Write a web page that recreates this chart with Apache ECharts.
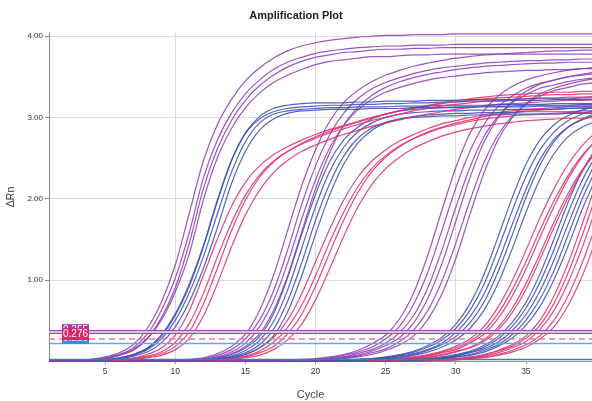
<!DOCTYPE html>
<html>
<head>
<meta charset="utf-8">
<title>Amplification Plot</title>
<script src="https://cdn.jsdelivr.net/npm/echarts@6/dist/echarts.min.js"></script>
<style>
  html, body { margin: 0; padding: 0; background: #fff; }
  #main { width: 592px; height: 401px; }
</style>
</head>
<body>
<div id="main"></div>
<script>
// PCR cycle numbers
const cycles = [1,2,3,4,5,6,7,8,9,10,11,12,13,14,15,16,17,18,19,20,21,22,23,24,25,26,27,28,29,30,31,32,33,34,35,36,37,38,39,40];

// Tick positions on the cycle axis
const cycleTicks = [5,10,15,20,25,30,35];
const cycleGrid = [10,20,30];

// Thresholds (ΔRn) for the three targets: purple, pink, blue
const thresholdPurple = 0.355;
const thresholdPink = 0.276;
const thresholdBlue = 0.216;

// ΔRn per cycle, replicate wells, grouped by dilution and target
const purpleHigh = [
  [0,0,0.01,0.02,0.05,0.10,0.20,0.40,0.72,1.18, 1.82,2.46,2.91,3.22,3.45,3.61,3.73,3.82,3.88,3.92, 3.95,3.97,3.99,4.00,4.01,4.01,4.02,4.02,4.02,4.03, 4.03,4.03,4.03,4.03,4.03,4.03,4.03,4.03,4.03,4.03],
  [0,0,0.01,0.02,0.04,0.08,0.16,0.33,0.62,1.02, 1.58,2.25,2.72,3.05,3.29,3.46,3.59,3.68,3.74,3.79, 3.82,3.84,3.86,3.87,3.88,3.88,3.89,3.89,3.89,3.90, 3.90,3.90,3.90,3.90,3.90,3.90,3.90,3.90,3.90,3.90],
  [0,0,0,0.01,0.03,0.07,0.14,0.28,0.53,0.90, 1.45,2.12,2.61,2.96,3.21,3.39,3.52,3.62,3.69,3.74, 3.77,3.80,3.81,3.83,3.84,3.84,3.85,3.85,3.86,3.86, 3.86,3.86,3.86,3.86,3.86,3.86,3.86,3.86,3.86,3.86],
  [0,0,0,0.01,0.03,0.07,0.13,0.27,0.50,0.85, 1.32,1.98,2.50,2.86,3.12,3.30,3.43,3.52,3.59,3.65, 3.69,3.71,3.73,3.75,3.75,3.76,3.77,3.77,3.78,3.78, 3.78,3.78,3.78,3.78,3.78,3.78,3.78,3.78,3.78,3.78]
];
const blueHigh = [
  [0,0,0,0.01,0.02,0.04,0.08,0.16,0.32,0.58, 0.95,1.42,1.98,2.47,2.80,2.98,3.07,3.11,3.13,3.14, 3.15,3.15,3.16,3.16,3.17,3.17,3.18,3.18,3.19,3.19, 3.20,3.20,3.20,3.21,3.21,3.21,3.22,3.22,3.22,3.22],
  [0,0,0,0.01,0.02,0.03,0.07,0.14,0.27,0.50, 0.84,1.28,1.81,2.32,2.70,2.93,3.04,3.08,3.10,3.11, 3.12,3.12,3.13,3.13,3.13,3.14,3.14,3.14,3.15,3.15, 3.15,3.15,3.16,3.16,3.16,3.16,3.17,3.17,3.17,3.17],
  [0,0,0,0,0.01,0.03,0.06,0.11,0.22,0.42, 0.73,1.14,1.64,2.18,2.58,2.84,2.98,3.05,3.08,3.09, 3.10,3.10,3.10,3.11,3.11,3.11,3.12,3.12,3.12,3.12, 3.13,3.13,3.13,3.13,3.13,3.14,3.14,3.14,3.14,3.14],
  [0,0,0,0.01,0.02,0.04,0.08,0.15,0.30,0.56, 0.92,1.40,1.96,2.46,2.81,3.01,3.11,3.15,3.17,3.18, 3.18,3.18,3.19,3.19,3.20,3.20,3.20,3.21,3.21,3.21, 3.22,3.22,3.22,3.22,3.23,3.23,3.23,3.23,3.24,3.24]
];
const pinkHigh = [
  [0,0,0,0.01,0.01,0.02,0.04,0.08,0.16,0.32, 0.62,1.05,1.50,1.90,2.20,2.40,2.54,2.64,2.72,2.79, 2.85,2.90,2.95,3.00,3.04,3.08,3.11,3.14,3.17,3.19, 3.21,3.23,3.24,3.25,3.26,3.27,3.28,3.28,3.29,3.29],
  [0,0,0,0,0.01,0.01,0.03,0.06,0.11,0.23, 0.46,0.83,1.28,1.70,2.04,2.29,2.46,2.58,2.67,2.74, 2.81,2.86,2.91,2.96,3.00,3.04,3.08,3.11,3.14,3.16, 3.18,3.20,3.21,3.22,3.23,3.24,3.24,3.25,3.25,3.26],
  [0,0,0,0,0,0.01,0.02,0.05,0.09,0.18, 0.36,0.70,1.14,1.60,1.98,2.26,2.45,2.58,2.68,2.76, 2.83,2.89,2.94,2.99,3.04,3.08,3.12,3.15,3.18,3.21, 3.23,3.25,3.27,3.28,3.29,3.30,3.31,3.31,3.32,3.32],
  [0,0,0,0,0,0.01,0.02,0.04,0.07,0.14, 0.28,0.55,0.95,1.40,1.80,2.10,2.32,2.47,2.58,2.66, 2.73,2.79,2.84,2.89,2.93,2.97,3.01,3.04,3.07,3.10, 3.12,3.14,3.16,3.17,3.18,3.19,3.20,3.21,3.21,3.22]
];
const purpleMid = [
  [0,0,0,0,0,0,0,0,0.01,0.01, 0.02,0.04,0.09,0.18,0.33,0.62,1.05,1.60,2.15,2.60, 2.95,3.18,3.33,3.44,3.52,3.58,3.63,3.67,3.70,3.73, 3.75,3.77,3.78,3.79,3.80,3.81,3.82,3.82,3.83,3.83],
  [0,0,0,0,0,0,0,0,0,0.01, 0.01,0.03,0.07,0.14,0.27,0.50,0.86,1.36,1.92,2.40, 2.78,3.05,3.23,3.35,3.43,3.49,3.54,3.58,3.61,3.63, 3.65,3.67,3.68,3.69,3.70,3.70,3.71,3.71,3.72,3.72],
  [0,0,0,0,0,0,0,0,0,0, 0.01,0.02,0.05,0.11,0.22,0.42,0.74,1.20,1.74,2.23, 2.62,2.90,3.09,3.22,3.31,3.37,3.42,3.46,3.49,3.51, 3.53,3.55,3.56,3.57,3.58,3.58,3.59,3.59,3.60,3.60],
  [0,0,0,0,0,0,0,0,0,0, 0.01,0.02,0.04,0.09,0.18,0.33,0.62,1.04,1.58,2.12, 2.56,2.90,3.12,3.27,3.37,3.44,3.49,3.53,3.56,3.59, 3.61,3.63,3.64,3.65,3.66,3.67,3.67,3.68,3.68,3.68]
];
const blueMid = [
  [0,0,0,0,0,0,0,0,0,0, 0.01,0.02,0.04,0.08,0.16,0.30,0.58,1.02,1.55,2.05, 2.45,2.72,2.88,2.98,3.04,3.08,3.10,3.11,3.12,3.13, 3.13,3.14,3.14,3.14,3.15,3.15,3.15,3.15,3.16,3.16],
  [0,0,0,0,0,0,0,0,0,0, 0,0.02,0.03,0.06,0.13,0.25,0.48,0.87,1.38,1.90, 2.33,2.63,2.82,2.93,3.00,3.04,3.06,3.07,3.08,3.08, 3.09,3.09,3.09,3.10,3.10,3.10,3.10,3.11,3.11,3.11],
  [0,0,0,0,0,0,0,0,0,0, 0,0.01,0.03,0.05,0.10,0.20,0.39,0.73,1.20,1.73, 2.18,2.52,2.74,2.87,2.94,2.98,3.00,3.01,3.02,3.02, 3.03,3.03,3.03,3.04,3.04,3.04,3.04,3.05,3.05,3.05],
  [0,0,0,0,0,0,0,0,0,0, 0,0,0.02,0.04,0.08,0.16,0.31,0.60,1.04,1.56, 2.04,2.42,2.68,2.84,2.93,2.98,3.01,3.03,3.04,3.05, 3.05,3.06,3.06,3.06,3.07,3.07,3.07,3.07,3.08,3.08]
];
const pinkMid = [
  [0,0,0,0,0,0,0,0,0,0, 0,0.01,0.02,0.04,0.08,0.16,0.29,0.50,0.82,1.22, 1.62,1.98,2.26,2.46,2.60,2.71,2.79,2.86,2.92,2.96, 3.00,3.03,3.06,3.08,3.10,3.11,3.12,3.13,3.14,3.14],
  [0,0,0,0,0,0,0,0,0,0, 0,0,0.01,0.03,0.06,0.12,0.23,0.41,0.68,1.05, 1.46,1.83,2.14,2.37,2.53,2.65,2.74,2.81,2.87,2.91, 2.95,2.98,3.00,3.02,3.03,3.04,3.05,3.06,3.06,3.07],
  [0,0,0,0,0,0,0,0,0,0, 0,0,0.01,0.02,0.05,0.10,0.18,0.33,0.57,0.92, 1.33,1.73,2.07,2.33,2.51,2.64,2.74,2.82,2.88,2.93, 2.97,3.01,3.04,3.06,3.08,3.09,3.10,3.11,3.12,3.12],
  [0,0,0,0,0,0,0,0,0,0, 0,0,0,0.02,0.04,0.07,0.14,0.26,0.45,0.75, 1.13,1.53,1.89,2.17,2.37,2.51,2.62,2.70,2.77,2.82, 2.86,2.89,2.92,2.94,2.96,2.97,2.98,2.99,2.99,3.00]
];
const purpleLow = [
  [0,0,0,0,0,0,0,0,0,0, 0,0,0,0,0,0,0,0.01,0.02,0.03, 0.05,0.08,0.13,0.21,0.32,0.52,0.84,1.30,1.85,2.38, 2.80,3.08,3.26,3.38,3.46,3.51,3.55,3.58,3.60,3.62],
  [0,0,0,0,0,0,0,0,0,0, 0,0,0,0,0,0,0,0.01,0.01,0.02, 0.04,0.07,0.11,0.17,0.27,0.43,0.70,1.09,1.60,2.13, 2.58,2.91,3.13,3.26,3.36,3.42,3.46,3.50,3.52,3.54],
  [0,0,0,0,0,0,0,0,0,0, 0,0,0,0,0,0,0,0.01,0.01,0.02, 0.03,0.05,0.09,0.14,0.22,0.35,0.56,0.90,1.36,1.89, 2.38,2.76,3.01,3.18,3.28,3.36,3.40,3.44,3.47,3.49],
  [0,0,0,0,0,0,0,0,0,0, 0,0,0,0,0,0,0,0.01,0.01,0.02, 0.03,0.05,0.07,0.12,0.19,0.29,0.47,0.77,1.19,1.72, 2.25,2.69,2.99,3.19,3.32,3.41,3.46,3.50,3.53,3.56],
  [0,0,0,0,0,0,0,0,0,0, 0,0,0,0,0,0,0,0,0.01,0.01, 0.02,0.04,0.06,0.10,0.15,0.24,0.38,0.62,0.98,1.45, 1.97,2.44,2.78,3.01,3.16,3.26,3.33,3.37,3.41,3.43],
  [0,0,0,0,0,0,0,0,0,0, 0,0,0,0,0,0,0,0,0.01,0.01, 0.02,0.03,0.05,0.08,0.13,0.20,0.31,0.51,0.82,1.26, 1.80,2.31,2.72,2.99,3.17,3.29,3.36,3.41,3.45,3.48]
];
const blueLow = [
  [0,0,0,0,0,0,0,0,0,0, 0,0,0,0,0,0,0,0,0,0, 0.01,0.01,0.02,0.03,0.05,0.08,0.12,0.19,0.29,0.45, 0.70,1.06,1.52,2.00,2.42,2.72,2.91,3.02,3.09,3.13],
  [0,0,0,0,0,0,0,0,0,0, 0,0,0,0,0,0,0,0,0,0, 0.01,0.01,0.02,0.03,0.04,0.07,0.11,0.17,0.26,0.40, 0.62,0.94,1.37,1.84,2.27,2.60,2.82,2.96,3.04,3.09],
  [0,0,0,0,0,0,0,0,0,0, 0,0,0,0,0,0,0,0,0,0, 0,0.01,0.01,0.02,0.04,0.06,0.09,0.14,0.22,0.35, 0.54,0.82,1.21,1.67,2.11,2.48,2.73,2.88,2.97,3.03],
  [0,0,0,0,0,0,0,0,0,0, 0,0,0,0,0,0,0,0,0,0, 0,0.01,0.01,0.02,0.03,0.05,0.08,0.13,0.20,0.30, 0.47,0.72,1.09,1.54,2.01,2.41,2.70,2.88,2.98,3.05],
  [0,0,0,0,0,0,0,0,0,0, 0,0,0,0,0,0,0,0,0,0, 0,0,0.01,0.02,0.03,0.04,0.07,0.11,0.17,0.26, 0.40,0.62,0.95,1.37,1.83,2.24,2.55,2.76,2.88,2.95]
];
const pinkLow = [
  [0,0,0,0,0,0,0,0,0,0, 0,0,0,0,0,0,0,0,0,0, 0,0,0,0.01,0.02,0.03,0.05,0.08,0.12,0.18, 0.27,0.42,0.66,0.98,1.36,1.76,2.12,2.42,2.65,2.82],
  [0,0,0,0,0,0,0,0,0,0, 0,0,0,0,0,0,0,0,0,0, 0,0,0,0.01,0.01,0.03,0.04,0.07,0.11,0.16, 0.24,0.37,0.58,0.87,1.22,1.61,1.97,2.28,2.53,2.71],
  [0,0,0,0,0,0,0,0,0,0, 0,0,0,0,0,0,0,0,0,0, 0,0,0,0,0.01,0.02,0.04,0.06,0.10,0.14, 0.22,0.33,0.52,0.79,1.13,1.52,1.90,2.24,2.51,2.72],
  [0,0,0,0,0,0,0,0,0,0, 0,0,0,0,0,0,0,0,0,0, 0,0,0,0,0.01,0.01,0.03,0.05,0.08,0.12, 0.17,0.26,0.41,0.64,0.95,1.32,1.71,2.06,2.35,2.57],
  [0,0,0,0,0,0,0,0,0,0, 0,0,0,0,0,0,0,0,0,0, 0,0,0,0,0,0.01,0.03,0.04,0.07,0.11, 0.16,0.24,0.38,0.59,0.88,1.25,1.64,2.01,2.33,2.58]
];
const blueLowest = [
  [0,0,0,0,0,0,0,0,0,0, 0,0,0,0,0,0,0,0,0,0, 0,0,0,0,0,0.01,0.02,0.03,0.05,0.08, 0.12,0.19,0.30,0.47,0.72,1.07,1.50,1.95,2.33,2.62],
  [0,0,0,0,0,0,0,0,0,0, 0,0,0,0,0,0,0,0,0,0, 0,0,0,0,0,0.01,0.02,0.03,0.04,0.07, 0.11,0.17,0.27,0.42,0.65,0.97,1.37,1.82,2.22,2.53],
  [0,0,0,0,0,0,0,0,0,0, 0,0,0,0,0,0,0,0,0,0, 0,0,0,0,0,0,0.01,0.02,0.04,0.06, 0.10,0.15,0.23,0.37,0.57,0.86,1.24,1.68,2.10,2.45],
  [0,0,0,0,0,0,0,0,0,0, 0,0,0,0,0,0,0,0,0,0, 0,0,0,0,0,0,0.01,0.02,0.03,0.05, 0.08,0.13,0.20,0.32,0.50,0.76,1.11,1.55,1.99,2.36],
  [0,0,0,0,0,0,0,0,0,0, 0,0,0,0,0,0,0,0,0,0, 0,0,0,0,0,0,0.01,0.02,0.03,0.05, 0.07,0.11,0.18,0.28,0.44,0.67,1.00,1.41,1.86,2.25]
];
const pinkLowest = [
  [0,0,0,0,0,0,0,0,0,0, 0,0,0,0,0,0,0,0,0,0, 0,0,0,0,0,0,0,0.01,0.02,0.03, 0.05,0.08,0.13,0.20,0.31,0.50,0.80,1.20,1.68,2.18],
  [0,0,0,0,0,0,0,0,0,0, 0,0,0,0,0,0,0,0,0,0, 0,0,0,0,0,0,0,0.01,0.02,0.03, 0.04,0.07,0.12,0.18,0.28,0.44,0.71,1.08,1.54,2.03],
  [0,0,0,0,0,0,0,0,0,0, 0,0,0,0,0,0,0,0,0,0, 0,0,0,0,0,0,0,0,0.01,0.02, 0.04,0.06,0.10,0.16,0.24,0.39,0.62,0.96,1.39,1.88],
  [0,0,0,0,0,0,0,0,0,0, 0,0,0,0,0,0,0,0,0,0, 0,0,0,0,0,0,0,0,0.01,0.02, 0.03,0.05,0.08,0.13,0.20,0.31,0.50,0.80,1.20,1.68],
  [0,0,0,0,0,0,0,0,0,0, 0,0,0,0,0,0,0,0,0,0, 0,0,0,0,0,0,0,0,0,0.01, 0.03,0.04,0.07,0.11,0.17,0.27,0.42,0.68,1.04,1.49]
];
// No-template control wells: flat trace
const ntc = [0.02,0.02,0.02,0.02,0.02,0.02,0.02,0.02,0.02,0.02, 0.02,0.02,0.02,0.02,0.02,0.02,0.02,0.02,0.02,0.02, 0.02,0.02,0.02,0.02,0.02,0.02,0.02,0.02,0.02,0.02, 0.02,0.02,0.02,0.02,0.02,0.02,0.02,0.02,0.02,0.02];

const PURPLE = '#8f3bb8';
const BLUE = '#3e4db6';
const PINK = '#de316c';
const FONT = '"Liberation Sans", Arial, sans-serif';

const groups = [
  { rows: pinkLowest, color: PINK },
  { rows: blueLowest, color: BLUE },
  { rows: pinkLow, color: PINK },
  { rows: blueLow, color: BLUE },
  { rows: purpleLow, color: PURPLE },
  { rows: pinkMid, color: PINK },
  { rows: blueMid, color: BLUE },
  { rows: purpleMid, color: PURPLE },
  { rows: pinkHigh, color: PINK },
  { rows: blueHigh, color: BLUE },
  { rows: purpleHigh, color: PURPLE }
];

const series = [];

// vertical grid lines every 10 cycles (kept behind the traces)
series.push({
  type: 'line',
  data: [],
  silent: true,
  markLine: {
    silent: true,
    z: 1,
    symbol: 'none',
    label: { show: false },
    emphasis: { disabled: true },
    lineStyle: { color: '#dcdcdc', width: 1, type: 'solid' },
    data: cycleGrid.map(c => ({ xAxis: c }))
  }
});

groups.forEach(g => {
  g.rows.forEach(row => {
    series.push({
      type: 'line',
      data: cycles.map((c, i) => [c, row[i]]),
      showSymbol: false,
      smooth: 0.3,
      silent: true,
      z: 2,
      lineStyle: { color: g.color, width: 1.2, opacity: 0.88 },
      emphasis: { disabled: true }
    });
  });
});

series.push({
  type: 'line',
  data: cycles.map((c, i) => [c, ntc[i]]),
  showSymbol: false,
  silent: true,
  z: 3,
  lineStyle: { color: '#2b8a9c', width: 1.5 }
});

const labelBase = {
  show: true,
  position: 'insideStartTop',
  color: '#fff',
  fontFamily: FONT,
  fontSize: 10,
  lineHeight: 11,
  padding: [1, 1, 0, 1],
  formatter: p => Number(p.value).toFixed(3)
};

// threshold lines with their value tags
series.push({
  type: 'line',
  data: [],
  silent: true,
  markLine: {
    silent: true,
    symbol: 'none',
    precision: 3,
    emphasis: { disabled: true },
    data: [
      { yAxis: thresholdPurple, lineStyle: { color: '#9a4fb0', width: 4.2, type: 'solid' },
        label: Object.assign({}, labelBase, { backgroundColor: '#9d3aa8', distance: [13, -4] }) },
      { yAxis: thresholdPurple, lineStyle: { color: '#ffffff', width: 1.6, type: 'solid', opacity: 0.85 },
        label: { show: false } },
      { yAxis: thresholdBlue, lineStyle: { color: '#5aaee0', width: 1.3, type: 'solid' },
        label: Object.assign({}, labelBase, { backgroundColor: '#2f8fd8', distance: [13, -0.5] }) },
      { yAxis: thresholdPink, lineStyle: { color: '#e8779f', width: 1.6, type: [6, 4] },
        label: Object.assign({}, labelBase, { backgroundColor: '#d8276a', distance: [13, -1.5] }) }
    ]
  }
});

const chart = echarts.init(document.getElementById('main'), null, { renderer: 'canvas' });
chart.setOption({
  animation: false,
  backgroundColor: '#fff',
  title: {
    text: 'Amplification Plot',
    left: 'center',
    top: 5,
    textStyle: { fontFamily: FONT, fontSize: 11, fontWeight: 'bold', color: '#222' }
  },
  grid: { left: 49, right: -4, top: 33, bottom: 40, containLabel: false, outerBoundsMode: 'none' },
  xAxis: {
    type: 'value',
    min: 1,
    max: 40,
    name: 'Cycle',
    nameLocation: 'middle',
    nameGap: 28,
    nameTextStyle: { fontFamily: FONT, fontSize: 11, color: '#444', padding: [0, 24, 0, 0] },
    axisLine: { show: true, lineStyle: { color: '#999', width: 1 } },
    axisTick: { show: true, length: 3, lineStyle: { color: '#999' }, customValues: cycleTicks },
    axisLabel: { fontFamily: FONT, fontSize: 8.5, color: '#333', margin: 6, customValues: cycleTicks },
    splitLine: { show: false }
  },
  yAxis: {
    type: 'value',
    min: 0,
    max: 4.04,
    interval: 1,
    name: 'ΔRn',
    nameLocation: 'middle',
    nameGap: 30,
    nameTextStyle: { fontFamily: FONT, fontSize: 10.5, color: '#333' },
    axisLine: { show: true, lineStyle: { color: '#888', width: 1 } },
    axisTick: { show: true, length: 4, lineStyle: { color: '#888' } },
    axisLabel: {
      fontFamily: FONT, fontSize: 8, color: '#333', margin: 6,
      showMinLabel: false, showMaxLabel: false,
      formatter: v => v.toFixed(2)
    },
    splitLine: { show: true, showMinLine: false, showMaxLine: false, lineStyle: { color: '#dcdcdc', width: 1 } }
  },
  series: series
});
</script>
</body>
</html>
